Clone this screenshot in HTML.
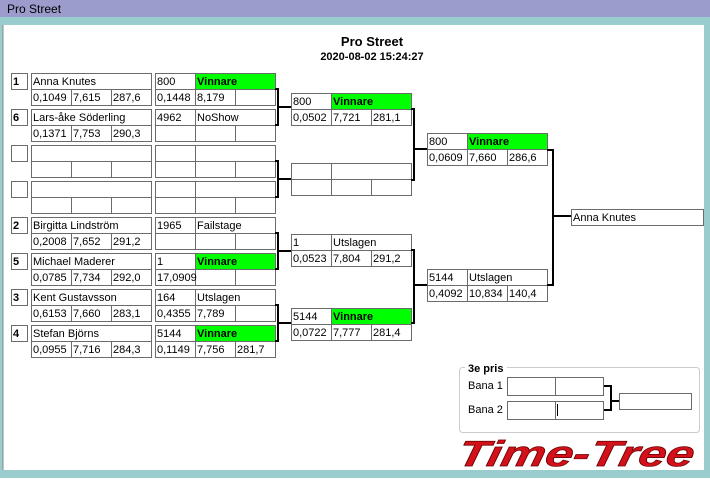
<!DOCTYPE html>
<html><head><meta charset="utf-8"><style>
body{margin:0;width:710px;height:478px;overflow:hidden;background:#fff;font-family:"Liberation Sans",sans-serif}
</style></head><body>
<svg width="710" height="478" xmlns="http://www.w3.org/2000/svg" font-family="Liberation Sans, sans-serif" font-size="11">
<rect x="0" y="0" width="710" height="478" fill="#fff"/>
<rect x="0" y="0" width="710" height="17" fill="#9b9bcc"/>
<rect x="0" y="17" width="710" height="8" fill="#99cccc"/>
<rect x="0" y="17" width="3" height="461" fill="#99cccc"/>
<rect x="704" y="17" width="6" height="461" fill="#99cccc"/>
<rect x="0" y="470" width="710" height="8" fill="#99cccc"/>
<rect x="3" y="25" width="701" height="445" fill="#fff"/>
<line x1="3" y1="25" x2="3" y2="470" stroke="#888"/>
<text x="7" y="13" font-size="12">Pro Street</text>
<text x="372" y="46" font-size="13" font-weight="bold" text-anchor="middle">Pro Street</text>
<text x="372" y="60" font-size="11" font-weight="bold" text-anchor="middle">2020-08-02 15:24:27</text>
<g id="boxes" fill="none" stroke="#6b6b6b" stroke-width="1"></g>
<g id="t"></g>
<g id="brk" stroke="#000" stroke-width="2" fill="none">
<path d="M275 89H278V125H275 M278 107H291"/>
<path d="M275 161H278V197H275 M278 179H291"/>
<path d="M275 233H278V269H275 M278 251H291"/>
<path d="M275 305H278V341H275 M278 323H291"/>
<path d="M411 109H414V180H411 M414 149H427"/>
<path d="M411 250H414V323H411 M414 285H427"/>
<path d="M547 150H553V285H547 M553 216H571"/>
<path d="M603 386H611V410H603 M611 401H619"/>
</g>
<rect x="459.5" y="367.5" width="240" height="65" rx="3" fill="none" stroke="#ccc"/>
<rect x="465" y="362" width="42" height="12" fill="#fff"/>
<text x="468" y="372" font-weight="bold">3e pris</text>
<text x="468" y="389">Bana 1</text>
<text x="468" y="413">Bana 2</text>
<g fill="none" stroke="#6b6b6b">
<rect x="507.5" y="377.5" width="96" height="18"/><line x1="555.5" y1="377" x2="555.5" y2="395"/>
<rect x="507.5" y="401.5" width="96" height="18"/><line x1="555.5" y1="401" x2="555.5" y2="419"/>
<rect x="619.5" y="393.5" width="72" height="16"/>
</g>
<line x1="557.5" y1="404" x2="557.5" y2="416" stroke="#000"/>
<text x="555" y="466" font-size="36" font-weight="bold" font-style="italic" fill="#d4101a" stroke="#600" stroke-width="0.7" transform="skewX(-12)" textLength="236" lengthAdjust="spacingAndGlyphs">Time-Tree</text>
</svg>
<script>
var ns="http://www.w3.org/2000/svg";
var B=document.getElementById('boxes'),T=document.getElementById('t');
function r(x,y,w,h,fill){var e=document.createElementNS(ns,'rect');e.setAttribute('x',x+.5);e.setAttribute('y',y+.5);e.setAttribute('width',w);e.setAttribute('height',h);if(fill){e.setAttribute('fill',fill);}B.appendChild(e);}
function t(x,y,s,b){if(!s)return;var e=document.createElementNS(ns,'text');e.setAttribute('x',x+2);e.setAttribute('y',y+12);if(b)e.setAttribute('font-weight','bold');e.textContent=s;T.appendChild(e);}
function box(x,y,a,bb,green,s1,s2,s3,single){
  if(single){r(x,y,120,16);t(x,y,a);}
  else{r(x,y,40,16);r(x+40,y,80,16,green?'#00ff00':null);t(x,y,a);t(x+40,y,bb,green);}
  r(x,y+16,40,16);r(x+40,y+16,40,16);r(x+80,y+16,40,16);t(x,y+16,s1);t(x+40,y+16,s2);t(x+80,y+16,s3);
}
var players=[["1","Anna Knutes","0,1049","7,615","287,6"],["6","Lars-åke Söderling","0,1371","7,753","290,3"],["","","","",""],["","","","",""],["2","Birgitta Lindström","0,2008","7,652","291,2"],["5","Michael Maderer","0,0785","7,734","292,0"],["3","Kent Gustavsson","0,6153","7,660","283,1"],["4","Stefan Björns","0,0955","7,716","284,3"]];
var r1=[["800","Vinnare",1,"0,1448","8,179",""],["4962","NoShow",0,"","",""],["","",0,"","",""],["","",0,"","",""],["1965","Failstage",0,"","",""],["1","Vinnare",1,"17,0909","",""],["164","Utslagen",0,"0,4355","7,789",""],["5144","Vinnare",1,"0,1149","7,756","281,7"]];
for(var i=0;i<8;i++){var y=73+36*i,p=players[i];
  r(11,y,16,16);t(11,y,p[0],1);
  box(31,y,p[1],"",0,p[2],p[3],p[4],1);
  var q=r1[i];box(155,y,q[0],q[1],q[2],q[3],q[4],q[5]);}
box(291,93,"800","Vinnare",1,"0,0502","7,721","281,1");
box(291,163,"","",0,"","","");
box(291,234,"1","Utslagen",0,"0,0523","7,804","291,2");
box(291,308,"5144","Vinnare",1,"0,0722","7,777","281,4");
box(427,133,"800","Vinnare",1,"0,0609","7,660","286,6");
box(427,269,"5144","Utslagen",0,"0,4092","10,834","140,4");
r(571,209,132,16);t(571,209,"Anna Knutes");
</script>
</body></html>
